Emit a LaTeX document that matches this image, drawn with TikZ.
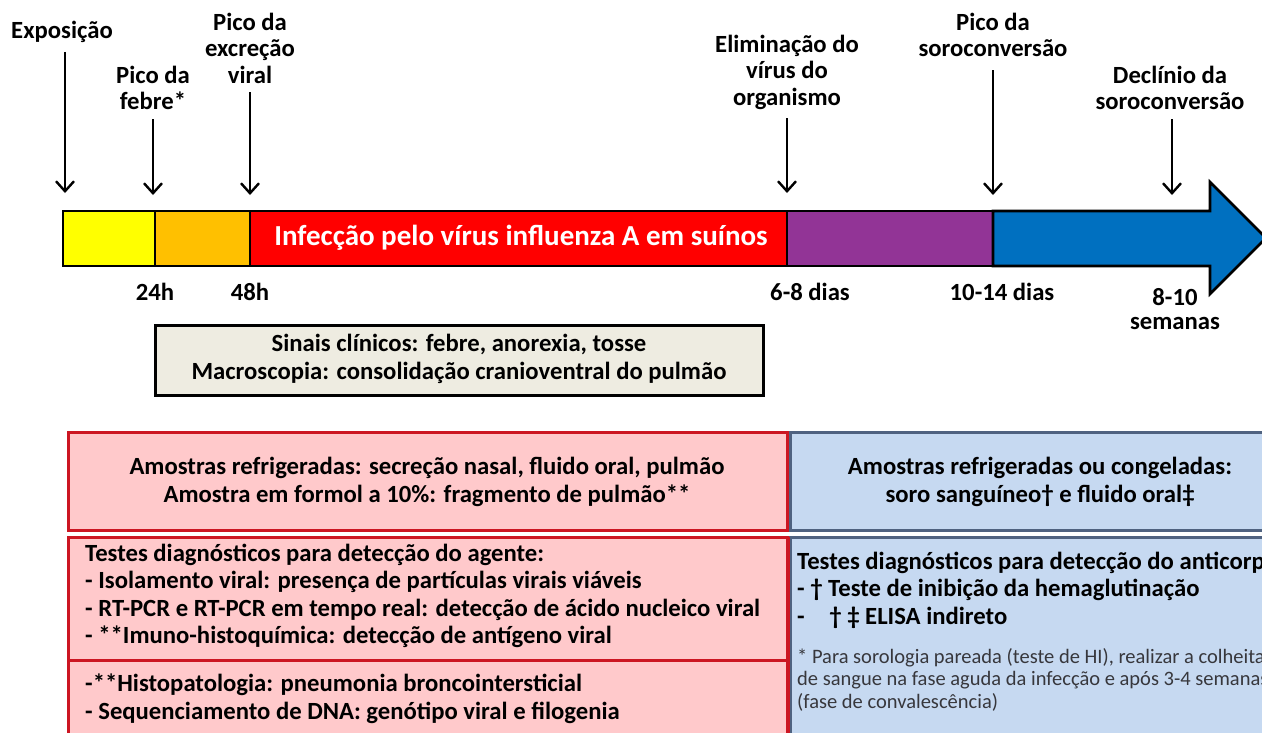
\documentclass[tikz,border=0pt]{standalone}
\usepackage{fontspec}
\setmainfont{Carlito}
\usetikzlibrary{arrows.meta,positioning}
\definecolor{amarelo}{RGB}{255,255,0}
\definecolor{laranja}{RGB}{255,192,0}
\definecolor{vermelho}{RGB}{255,0,0}
\definecolor{roxo}{RGB}{146,52,150}
\definecolor{azul}{RGB}{0,112,192}
\definecolor{bege}{RGB}{238,236,225}
\definecolor{rosa}{RGB}{255,201,203}
\definecolor{bordarosa}{RGB}{204,22,34}
\definecolor{celeste}{RGB}{198,217,241}
\definecolor{bordaazul}{RGB}{79,98,128}
\definecolor{cinzanota}{RGB}{55,55,60}

\tikzset{
  evento/.style={align=center, inner sep=0pt, font=\bfseries\fontsize{24.7}{26.5}\selectfont},
  prazo/.style={align=center, inner sep=0pt, font=\bfseries\fontsize{24.7}{24}\selectfont},
  seta/.style={-{Straight Barb[length=10pt,width=18pt,line width=2.4pt]}, line width=2.4pt, shorten <=9pt},
  fase/.style={draw=black, line width=2.6pt},
  texto/.style={inner sep=0pt, font=\bfseries\fontsize{24.7}{27.3}\selectfont},
}

\begin{document}
\begin{tikzpicture}[x=1pt, y=-1pt]
\useasboundingbox (0,0) rectangle (1262,732);
\clip (0,0) rectangle (1262,732);

% eixo do tempo
\coordinate (t0) at (63,211);
\coordinate (t24) at (155,266);
\fill[amarelo] (t0) rectangle (t24);
\fill[laranja] (155,211) rectangle (250,266);
\fill[vermelho] (250,211) rectangle (787,266);
\fill[roxo] (787,211) rectangle (993,266);
\draw[fase, fill=azul] (993,211) -- (1210,211) -- (1210,182) -- (1266,238) -- (1210,294) -- (1210,266) -- (993,266) -- cycle;
\draw[fase] (t0) rectangle (993,266);
\draw[fase] (155,211) -- (155,266);
\draw[fase] (250,211) -- (250,266);
\draw[fase] (787,211) -- (787,266);
\node[text=white, inner sep=0pt, font=\bfseries\fontsize{29}{30}\selectfont] (infeccao) at (521,238) {Infecção pelo vírus influenza A em suínos};

% eventos
\node[evento] (expo) at (62,32) {Exposição};
\node[evento] (febre) at (153,88) {Pico da\\febre*};
\node[evento] (excrecao) at (250,48) {Pico da\\excreção\\viral};
\node[evento] (elimina) at (787,72) {Eliminação do\\vírus do\\organismo};
\node[evento] (picoso) at (993,35) {Pico da\\soroconversão};
\node[evento] (declinio) at (1170,88) {Declínio da\\soroconversão};

\coordinate (e1) at (65,193);
\coordinate (e2) at (153,195);
\coordinate (e3) at (250,195);
\coordinate (e4) at (787,193);
\coordinate (e5) at (993,195);
\coordinate (e6) at (1172,195);
\draw[seta] (expo.south -| e1) -- (e1);
\draw[seta] (febre.south -| e2) -- (e2);
\draw[seta] (excrecao.south -| e3) -- (e3);
\draw[seta] (elimina.south -| e4) -- (e4);
\draw[seta, shorten <=13pt] (picoso.south -| e5) -- (e5);
\draw[seta] (declinio.south -| e6) -- (e6);

% prazos
\node[prazo] (h24) at (155,292) {24h};
\node[prazo] (h48) at (250,292) {48h};
\node[prazo] (d68) at (810,292) {6-8 dias};
\node[prazo] (d1014) at (1002,292) {10-14 dias};
\node[prazo] (s810) at (1175,309) {8-10\\semanas};

% sinais clinicos
\draw[fill=bege, draw=black, line width=3pt] (155,325) rectangle (763,395);
\node[texto, align=center] (sinais) at (459,359) {Sinais clínicos: febre, anorexia, tosse\\Macroscopia: consolidação cranioventral do pulmão};

% amostras e testes
\draw[fill=rosa, draw=bordarosa, line width=3pt] (68,432) rectangle (787,530);
\draw[fill=rosa, draw=bordarosa, line width=3pt] (68,537) rectangle (787,760);
\draw[bordarosa, line width=3pt] (68,660) -- (787,660);
\draw[fill=celeste, draw=bordaazul, line width=3pt] (790,432) rectangle (1280,530);
\draw[fill=celeste, draw=bordaazul, line width=3pt] (790,537) rectangle (1280,760);
\draw[bordarosa, line width=3pt] (788,537) -- (788,760);
\draw[bordarosa, line width=3pt] (787,432) -- (787,530);

\node[texto, align=center] (amagente) at (427,482) {Amostras refrigeradas: secreção nasal, fluido oral, pulmão\\Amostra em formol a 10\%: fragmento de pulmão**};
\node[texto, align=left, anchor=north west] (testagente) at (85,544) {Testes diagnósticos para detecção do agente:\\- Isolamento viral: presença de partículas virais viáveis\\- RT-PCR e RT-PCR em tempo real: detecção de ácido nucleico viral\\- **Imuno-histoquímica: detecção de antígeno viral};
\node[texto, align=left, anchor=north west] (histo) at (85,674) {-**Histopatologia: pneumonia broncointersticial\\- Sequenciamento de DNA: genótipo viral e filogenia};

\node[texto, align=center] (amanti) at (1040,482) {Amostras refrigeradas ou congeladas:\\soro sanguíneo† e fluido oral‡};
\node[texto, align=left, anchor=north west] (testanti) at (797,552) {Testes diagnósticos para detecção do anticorpo\\- † Teste de inibição da hemaglutinação\\-\quad † ‡ ELISA indireto};
\node[inner sep=0pt, align=left, anchor=north west, text=cinzanota, font=\fontsize{20.5}{22.5}\selectfont] (nota) at (797,648) {* Para sorologia pareada (teste de HI), realizar a colheita\\de sangue na fase aguda da infecção e após 3-4 semanas\\(fase de convalescência)};

\end{tikzpicture}
\end{document}
